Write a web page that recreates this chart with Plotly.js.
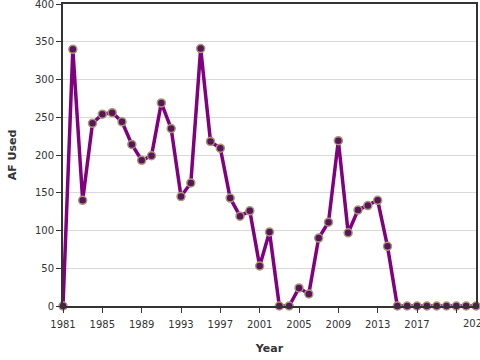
<!DOCTYPE html>
<html>
<head>
<meta charset="utf-8">
<script src="https://cdn.plot.ly/plotly-3.0.1.min.js"></script>
<style>html,body{margin:0;padding:0;background:#fff;}#chart{width:480px;height:360px;}</style>
</head>
<body>
<div id="chart"></div>
<script>
const years = [1981,1982,1983,1984,1985,1986,1987,1988,1989,1990,1991,1992,1993,1994,1995,1996,1997,1998,1999,2000,2001,2002,2003,2004,2005,2006,2007,2008,2009,2010,2011,2012,2013,2014,2015,2016,2017,2018,2019,2020,2021,2022,2023];
const afUsed = [0,340,140,242,254,256,244,214,193,199,269,235,145,163,341,218,209,143,119,126,53,98,0,0,24,16,90,111,219,97,127,133,140,79,0,0,0,0,0,0,0,0,0];
const xTickVals = [1981,1985,1989,1993,1997,2001,2005,2009,2013,2017];
const lastTickVal = 2021;
const lastTickText = '2021';
const yTickVals = [0,50,100,150,200,250,300,350,400];

const trace = {
  x: years, y: afUsed, type: 'scatter', mode: 'lines+markers',
  line: {color: '#800080', width: 3.5},
  marker: {size: 8, color: '#5a1459', line: {color: '#a89878', width: 1.5}},
  cliponaxis: false, hoverinfo: 'x+y'
};

const fam = 'DejaVu Sans, Verdana, sans-serif';
const font = {family: fam, size: 10, color: '#333'};
const layout = {
  width: 480, height: 360,
  margin: {l: 63, r: 4, t: 4, b: 54},
  paper_bgcolor: '#fff', plot_bgcolor: '#fff',
  font: font,
  showlegend: false,
  xaxis: {
    range: [1981, 2023], tickvals: xTickVals, ticktext: xTickVals.map(String),
    ticks: 'outside', ticklen: 5, tickcolor: '#333', tickwidth: 1,
    minor: {tickvals: [lastTickVal], ticks: 'outside', ticklen: 5, tickcolor: '#333', tickwidth: 1, showgrid: false},
    ticklabeloverflow: 'allow', ticklabelstandoff: 3,
    showline: true, linecolor: '#333', linewidth: 2, mirror: true,
    showgrid: false, zeroline: false,
    tickfont: font,
    title: {text: 'Year', font: {family: fam, size: 11, color: '#333', weight: 'bold'}, standoff: 15}
  },
  yaxis: {
    range: [0, 400], tickvals: yTickVals,
    ticks: 'outside', ticklen: 5, tickcolor: '#333', tickwidth: 1,
    ticklabeloverflow: 'allow',
    showline: true, linecolor: '#333', linewidth: 2, mirror: true,
    showgrid: true, gridcolor: '#d9d9d9', gridwidth: 1, zeroline: false,
    tickfont: font,
    title: {text: 'AF Used', font: {family: fam, size: 11, color: '#333', weight: 'bold'}, standoff: 16}
  },
  annotations: [{
    x: lastTickVal, xref: 'x', y: 0, yref: 'paper', yanchor: 'top', xanchor: 'center',
    xshift: 19, yshift: -10, text: lastTickText, showarrow: false, font: font
  }]
};
Plotly.newPlot('chart', [trace], layout, {displayModeBar: false, staticPlot: true});
</script>
</body>
</html>
